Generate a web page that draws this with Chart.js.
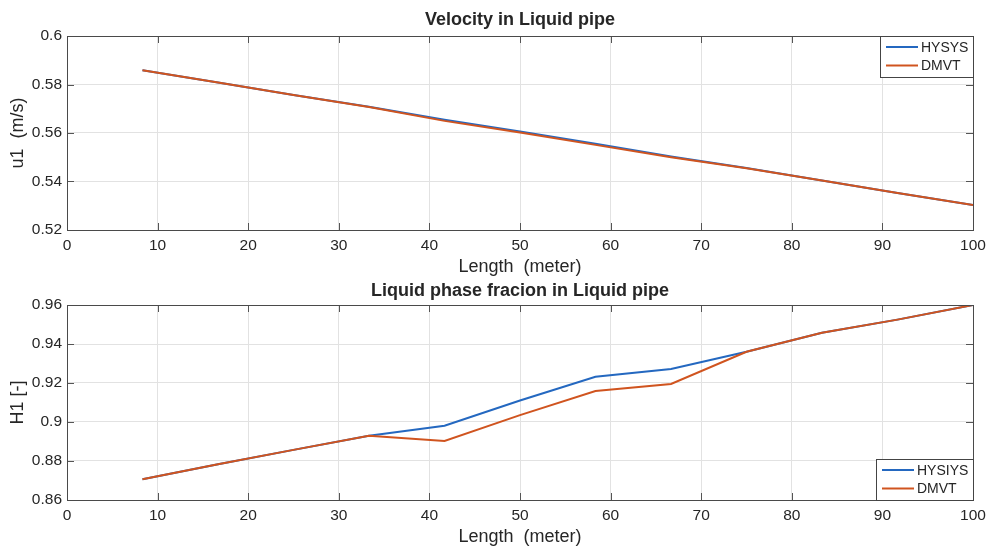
<!DOCTYPE html>
<html>
<head>
<meta charset="utf-8">
<script src="https://cdn.jsdelivr.net/npm/chart.js@4.4.1/dist/chart.umd.min.js"></script>
<style>
  body { margin: 0; background: #fff; }
  #wrap { position: relative; width: 989px; height: 549px; }
  canvas { position: absolute; left: 0; }
</style>
</head>
<body>
<div id="wrap">
  <canvas id="velChart" width="989" height="278" style="top:0"></canvas>
  <canvas id="holdChart" width="989" height="271" style="top:278px"></canvas>
</div>
<script>
// positions along the pipe (meter)
const lengths = [8.33, 16.67, 25, 33.33, 41.67, 50, 58.33, 66.67, 75, 83.33, 91.67, 100];

// liquid velocity u1 (m/s)
const velHysys = [0.5859, 0.5808, 0.5757, 0.5708, 0.5655, 0.5606, 0.5556, 0.5503, 0.5456, 0.5404, 0.5353, 0.5303];
const velDmvt  = [0.5859, 0.5808, 0.5757, 0.5707, 0.5650, 0.5602, 0.5551, 0.5500, 0.5455, 0.5404, 0.5353, 0.5303];

// liquid holdup H1 [-]
const holdHysys = [0.8706, 0.8783, 0.8857, 0.8930, 0.8981, 0.9110, 0.9232, 0.9272, 0.9360, 0.9458, 0.9525, 0.9600];
const holdDmvt  = [0.8706, 0.8783, 0.8857, 0.8930, 0.8903, 0.9035, 0.9159, 0.9195, 0.9360, 0.9458, 0.9525, 0.9600];

const xTicks = [0, 10, 20, 30, 40, 50, 60, 70, 80, 90, 100];
const velTicks = [0.52, 0.54, 0.56, 0.58, 0.6];
const holdTicks = [0.86, 0.88, 0.9, 0.92, 0.94, 0.96];

const FONT = "'Liberation Sans', Arial, Helvetica, sans-serif";
const TEXT = '#262626';
const BLUE = '#2468c0';
const ORANGE = '#d0541f';

function toPoints(xs, ys) {
  return xs.map((x, i) => ({ x: x, y: ys[i] }));
}

// box around the axes plus small inward tick marks
const axesBox = {
  id: 'axesBox',
  afterDatasetsDraw(chart) {
    const { ctx, chartArea: a, scales } = chart;
    ctx.save();
    ctx.strokeStyle = '#555';
    ctx.lineWidth = 1;
    ctx.beginPath();
    scales.x.ticks.forEach(t => {
      const px = Math.round(scales.x.getPixelForValue(t.value)) + 0.5;
      ctx.moveTo(px, a.bottom); ctx.lineTo(px, a.bottom - 7);
      ctx.moveTo(px, a.top); ctx.lineTo(px, a.top + 7);
    });
    scales.y.ticks.forEach(t => {
      const py = Math.round(scales.y.getPixelForValue(t.value)) + 0.5;
      ctx.moveTo(a.left, py); ctx.lineTo(a.left + 7, py);
      ctx.moveTo(a.right, py); ctx.lineTo(a.right - 7, py);
    });
    ctx.stroke();
    ctx.strokeStyle = '#4a4a4a';
    ctx.strokeRect(Math.round(a.left) + 0.5, Math.round(a.top) + 0.5,
                   Math.round(a.right - a.left), Math.round(a.bottom - a.top));
    ctx.restore();
  }
};

// boxed legend in a corner of the axes
function legendBox(corner) {
  return {
    id: 'legendBox',
    afterDraw(chart) {
      const { ctx, chartArea: a } = chart;
      const sets = chart.data.datasets;
      ctx.save();
      ctx.font = '14px ' + FONT;
      const textW = Math.max(...sets.map(d => ctx.measureText(d.label).width));
      const w = Math.round(41 + textW + 5);
      const h = 41;
      const left = Math.round(a.right) - w;
      const top = corner === 'top' ? Math.round(a.top) : Math.round(a.bottom) - h;
      ctx.fillStyle = '#fff';
      ctx.fillRect(left, top, w, h);
      ctx.strokeStyle = '#444';
      ctx.lineWidth = 1;
      ctx.strokeRect(left + 0.5, top + 0.5, w, h);
      sets.forEach((d, i) => {
        const y = top + 11 + i * 18.5;
        ctx.strokeStyle = d.borderColor;
        ctx.lineWidth = 2;
        ctx.beginPath();
        ctx.moveTo(left + 6, y);
        ctx.lineTo(left + 38, y);
        ctx.stroke();
        ctx.fillStyle = TEXT;
        ctx.textBaseline = 'middle';
        ctx.fillText(d.label, left + 41, y + 1);
      });
      ctx.restore();
    }
  };
}

function makeChart(id, opts) {
  const ctx = document.getElementById(id).getContext('2d');
  return new Chart(ctx, {
    type: 'line',
    data: {
      datasets: [
        {
          label: opts.labels[0],
          data: toPoints(lengths, opts.hysys),
          borderColor: BLUE,
          borderWidth: 2,
          pointRadius: 0,
          tension: 0,
          order: 1
        },
        {
          label: opts.labels[1],
          data: toPoints(lengths, opts.dmvt),
          borderColor: ORANGE,
          borderWidth: 2,
          pointRadius: 0,
          tension: 0,
          order: 0
        }
      ]
    },
    options: {
      responsive: false,
      animation: false,
      layout: { padding: { left: 0, right: 16, top: 0, bottom: 0 } },
      plugins: {
        legend: { display: false },
        tooltip: { enabled: false },
        title: {
          display: true,
          text: opts.title,
          fullSize: false,
          color: TEXT,
          font: { family: FONT, size: 18, weight: 'bold', lineHeight: 1.2 },
          padding: opts.titlePad
        }
      },
      scales: {
        x: {
          type: 'linear',
          min: 0,
          max: 100,
          afterBuildTicks: s => { s.ticks = xTicks.map(v => ({ value: v })); },
          afterFit: s => {
            s.height = opts.xHeight;
            s.paddingLeft = 0;
            s.paddingRight = 0;
          },
          grid: { color: '#e2e2e2', drawTicks: false },
          border: { display: false },
          ticks: { color: TEXT, padding: 6, maxRotation: 0, font: { family: FONT, size: 15.5 } },
          title: {
            display: true,
            text: 'Length  (meter)',
            color: TEXT,
            font: { family: FONT, size: 18, lineHeight: 1.2 },
            padding: { top: 0, bottom: opts.xTitlePad }
          }
        },
        y: {
          min: opts.yTicks[0],
          max: opts.yTicks[opts.yTicks.length - 1],
          afterBuildTicks: s => { s.ticks = opts.yTicks.map(v => ({ value: v })); },
          afterFit: s => {
            s.width = 67;
            s.paddingTop = 0;
            s.paddingBottom = 0;
          },
          grid: { color: '#e2e2e2', drawTicks: false },
          border: { display: false },
          ticks: {
            color: TEXT,
            padding: 5,
            font: { family: FONT, size: 15.5 },
            callback: v => String(+v.toFixed(2))
          },
          title: {
            display: true,
            text: opts.yTitle,
            color: TEXT,
            font: { family: FONT, size: 18, lineHeight: 1.2 },
            padding: { top: 7, bottom: 0 }
          }
        }
      }
    },
    plugins: [axesBox, legendBox(opts.legendCorner)]
  });
}

makeChart('velChart', {
  title: 'Velocity in Liquid pipe',
  labels: ['HYSYS', 'DMVT'],
  hysys: velHysys,
  dmvt: velDmvt,
  yTicks: velTicks,
  yTitle: 'u1  (m/s)',
  titlePad: { top: 9.2, bottom: 5.2 },
  xHeight: 48,
  xTitlePad: 0.5,
  legendCorner: 'top'
});

makeChart('holdChart', {
  title: 'Liquid phase fracion in Liquid pipe',
  labels: ['HYSIYS', 'DMVT'],
  hysys: holdHysys,
  dmvt: holdDmvt,
  yTicks: holdTicks,
  yTitle: 'H1 [-]',
  titlePad: { top: 1.9, bottom: 3.5 },
  xHeight: 49,
  xTitlePad: 1.5,
  legendCorner: 'bottom'
});
</script>
</body>
</html>
